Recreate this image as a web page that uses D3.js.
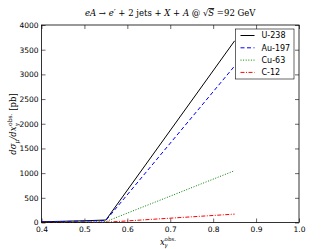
<!DOCTYPE html>
<html>
<head>
<meta charset="utf-8">
<script src="https://cdn.jsdelivr.net/npm/d3@7"></script>
<style>
  body { margin: 0; background: #fff; }
  text { font-family: "DejaVu Sans", sans-serif; }
  .serif { font-family: "DejaVu Serif", "Liberation Serif", serif; }
</style>
</head>
<body>
<div id="vis"></div>
<script>
// x positions of the computed points
const xVals = [0.4, 0.45, 0.5, 0.55, 0.85];

// cross section per nucleus, pb
const u238 = [15, 25, 35, 50, 3680];
const au197 = [12, 20, 30, 42, 3170];
const cu63 = [5, 8, 12, 18, 1050];
const c12 = [1, 2, 3, 5, 170];

const seriesNames = ["U-238", "Au-197", "Cu-63", "C-12"];
const xTicks = [0.4, 0.5, 0.6, 0.7, 0.8, 0.9, 1.0];
const yTicks = [0, 500, 1000, 1500, 2000, 2500, 3000, 3500, 4000];

const width = 332;
const height = 249;
const margin = { left: 41.5, right: 33, top: 25, bottom: 26.5 };

const svg = d3.select("#vis").append("svg")
  .attr("width", width)
  .attr("height", height);

const x = d3.scaleLinear().domain([0.4, 1.0]).range([margin.left, width - margin.right]);
const y = d3.scaleLinear().domain([0, 4000]).range([height - margin.bottom, margin.top]);

// matplotlib classic style: ticks inside, on all four sides
const tickLen = 4;
const bottomAxis = d3.axisBottom(x).tickValues(xTicks).tickSizeInner(-tickLen).tickSizeOuter(0)
  .tickPadding(4).tickFormat(d3.format(".1f"));
const leftAxis = d3.axisLeft(y).tickValues(yTicks).tickSizeInner(-tickLen).tickSizeOuter(0)
  .tickPadding(3).tickFormat(d3.format("d"));
const topAxis = d3.axisTop(x).tickValues(xTicks).tickSizeInner(-tickLen).tickSizeOuter(0).tickFormat("");
const rightAxis = d3.axisRight(y).tickValues(yTicks).tickSizeInner(-tickLen).tickSizeOuter(0).tickFormat("");

function styleAxis(g) {
  g.select(".domain").remove();
  g.selectAll("line").attr("stroke", "#000").attr("stroke-width", 0.6);
  g.selectAll("text").attr("font-size", 7.5).attr("fill", "#000")
    .style("font-family", "DejaVu Sans, sans-serif");
}

svg.append("g").attr("transform", `translate(0,${y(0)})`).call(bottomAxis).call(styleAxis);
svg.append("g").attr("transform", `translate(${x(0.4)},0)`).call(leftAxis).call(styleAxis);
svg.append("g").attr("transform", `translate(0,${y(4000)})`).call(topAxis).call(styleAxis);
svg.append("g").attr("transform", `translate(${x(1.0)},0)`).call(rightAxis).call(styleAxis);

// lines
const series = [
  { name: seriesNames[0], values: u238, color: "#000000", dash: null },
  { name: seriesNames[1], values: au197, color: "#0000ff", dash: "4,2.5" },
  { name: seriesNames[2], values: cu63, color: "#008000", dash: "1,1.6" },
  { name: seriesNames[3], values: c12, color: "#ff0000", dash: "4,1.5,1,1.5" }
];

const line = d3.line().x((d) => x(d[0])).y((d) => y(d[1]));

const plot = svg.append("g");
series.forEach((s) => {
  plot.append("path")
    .datum(xVals.map((xv, i) => [xv, s.values[i]]))
    .attr("d", line)
    .attr("fill", "none")
    .attr("stroke", s.color)
    .attr("stroke-width", 1)
    .attr("stroke-dasharray", s.dash);
});

// frame
svg.append("rect")
  .attr("x", x(0.4)).attr("y", y(4000))
  .attr("width", x(1.0) - x(0.4)).attr("height", y(0) - y(4000))
  .attr("fill", "none").attr("stroke", "#000").attr("stroke-width", 0.8);

// legend
const legend = svg.append("g").attr("transform", "translate(235.5,29)");
legend.append("rect")
  .attr("width", 58.5).attr("height", 50)
  .attr("fill", "#fff").attr("stroke", "#000").attr("stroke-width", 0.6);
series.forEach((s, i) => {
  const ly = 6.5 + i * 12.3;
  legend.append("line")
    .attr("x1", 5).attr("x2", 19).attr("y1", ly).attr("y2", ly)
    .attr("stroke", s.color).attr("stroke-width", 1)
    .attr("stroke-dasharray", s.dash);
  legend.append("text")
    .attr("x", 26).attr("y", ly).attr("dy", "0.35em")
    .attr("font-size", 8).text(s.name);
});

// title
const title = svg.append("text").attr("class", "serif")
  .attr("x", (x(0.4) + x(1.0)) / 2).attr("y", 16)
  .attr("text-anchor", "middle").attr("font-size", 8.5);
title.append("tspan").attr("font-style", "italic").text("eA");
title.append("tspan").text(" \u2192 ");
title.append("tspan").attr("font-style", "italic").text("e\u2032");
title.append("tspan").text(" + 2 jets + ");
title.append("tspan").attr("font-style", "italic").text("X");
title.append("tspan").text(" + ");
title.append("tspan").attr("font-style", "italic").text("A");
title.append("tspan").text(" @ \u221A");
title.append("tspan").attr("font-style", "italic").attr("text-decoration", "overline").text("S");
title.append("tspan").text(" =92 GeV");

// x label
const xl = svg.append("text").attr("class", "serif")
  .attr("x", 168).attr("y", 244.5)
  .attr("text-anchor", "middle").attr("font-size", 8.5);
xl.append("tspan").attr("font-style", "italic").text("x");
xl.append("tspan").attr("font-size", 5.5).attr("font-style", "italic").attr("dy", 2).attr("dx", -0.5).text("\u03B3");
xl.append("tspan").attr("font-size", 5.5).attr("dy", -6).attr("dx", -3).text("obs.");

// y label
const yl = svg.append("text").attr("class", "serif")
  .attr("transform", "translate(16,124) rotate(-90)")
  .attr("text-anchor", "middle").attr("font-size", 8.5);
yl.append("tspan").attr("font-style", "italic").text("d\u03C3");
yl.append("tspan").attr("font-size", 6).attr("font-style", "italic").attr("dy", 2.5).text("\u03BC");
yl.append("tspan").attr("dy", -2.5).attr("font-style", "italic").text("/dx");
yl.append("tspan").attr("font-size", 6).attr("font-style", "italic").attr("dy", 2.5).text("\u03B3");
yl.append("tspan").attr("font-size", 6).attr("dy", -7).attr("dx", -3).text("obs.");
yl.append("tspan").attr("dy", 4.5).text(" [pb]");
</script>
</body>
</html>
